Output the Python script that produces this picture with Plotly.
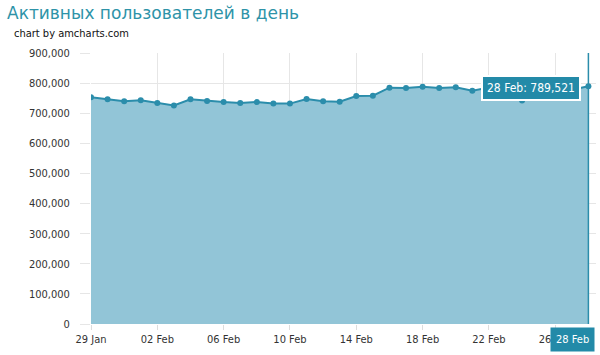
import plotly.graph_objects as go
import pandas as pd

dates = pd.date_range("2013-01-29", "2013-02-28", freq="D")
values = [753000, 746000, 740000, 743000, 734000, 726000, 746000, 741000,
          737000, 734000, 737000, 732000, 732000, 747000, 740000, 738000,
          757000, 758000, 785000, 784000, 788000, 784000, 786000, 775000,
          785000, 765000, 742000, 768000, 776000, 778000, 789521]
tick_dates = pd.date_range("2013-01-29", "2013-02-28", freq="4D")
y_ticks = list(range(0, 900001, 100000))

title_text = "Активных пользователей в день"
credit_text = "chart by amcharts.com"

line_col = "#2b8dab"
fill_col = "#92c5d7"
font_fam = "DejaVu Sans Condensed, DejaVu Sans, sans-serif"

fig = go.Figure()
fig.add_trace(go.Scatter(
    x=dates, y=values, mode="lines+markers",
    line=dict(color=line_col, width=2),
    marker=dict(color=line_col, size=6),
    fill="tozeroy", fillcolor=fill_col,
    hoverinfo="skip", showlegend=False,
))

last_x = dates[-1]
last_y = values[-1]

fig.add_shape(type="line", x0=last_x, x1=last_x, y0=0, y1=1, yref="paper",
              line=dict(color=line_col, width=1.5))

fig.add_annotation(x=last_x, y=last_y, text=f"{last_x.strftime('%d %b')}: {last_y:,}",
                   showarrow=False, xanchor="right", yanchor="middle",
                   xshift=-7, yshift=-2,
                   bgcolor="#238aa8", bordercolor="white", borderwidth=2, borderpad=4,
                   font=dict(color="white", size=12, family=font_fam))

fig.add_annotation(x=last_x, y=0, yref="paper", text=last_x.strftime('%d %b'),
                   showarrow=False, xanchor="right", yanchor="top",
                   xshift=7, yshift=-3,
                   bgcolor="#238aa8", borderpad=5,
                   font=dict(color="white", size=11, family=font_fam))

fig.add_annotation(x=0, y=1, xref="paper", yref="paper", xanchor="left", yanchor="top",
                   text=title_text, showarrow=False, xshift=-86, yshift=52,
                   font=dict(color="#2e93a8", size=17, family="DejaVu Sans, sans-serif"))
fig.add_annotation(x=0, y=1, xref="paper", yref="paper", xanchor="left", yanchor="top",
                   text=credit_text, showarrow=False, xshift=-79, yshift=28,
                   font=dict(color="#111", size=11, family=font_fam))

fig.update_layout(
    width=600, height=355,
    margin=dict(l=91, r=4, t=53, b=31),
    paper_bgcolor="white", plot_bgcolor="white",
    font=dict(family=font_fam, size=11, color="#333"),
    xaxis=dict(
        range=[dates[0], last_x + pd.Timedelta(hours=11)],
        tickvals=tick_dates, ticktext=[d.strftime("%d %b") for d in tick_dates],
        showgrid=True, gridcolor="#e6e6e6", gridwidth=1,
        ticks="outside", ticklen=5, tickcolor="#dddddd",
        zeroline=False, showline=False,
    ),
    yaxis=dict(
        range=[0, 900000], tickvals=y_ticks,
        ticktext=[f"{v:,}" for v in y_ticks],
        showgrid=True, gridcolor="#e6e6e6", gridwidth=1,
        ticks="outside", ticklen=10, tickcolor="#e6e6e6",
        ticklabelstandoff=8,
        zeroline=False, showline=False,
    ),
)

fig.write_html("out.html")
